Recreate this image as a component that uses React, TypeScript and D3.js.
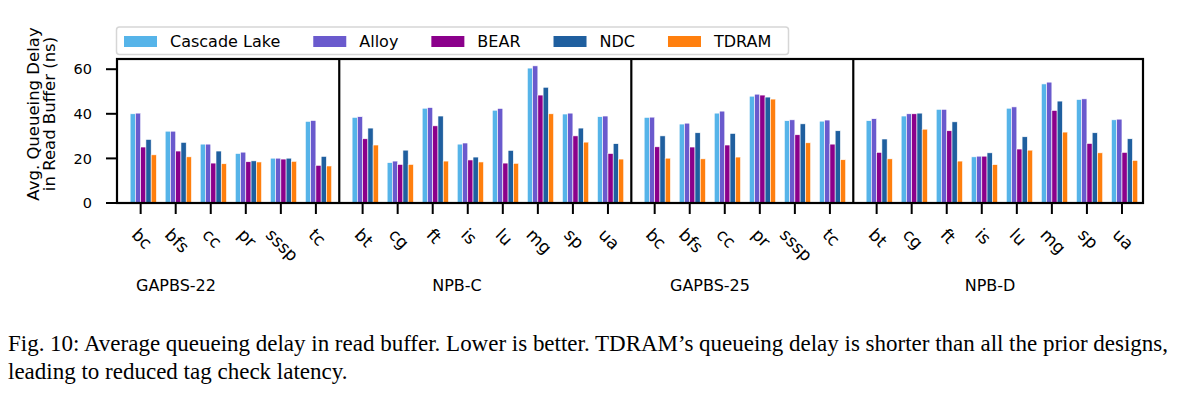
import * as d3 from "d3";
import React, { useRef, useEffect } from "react";

const seriesNames = ["Cascade Lake", "Alloy", "BEAR", "NDC", "TDRAM"];
const seriesColors = ["#56B4E9", "#6A5ACD", "#8B008B", "#1F5F9F", "#FF7F0E"];

const groupNames = ["GAPBS-22", "NPB-C", "GAPBS-25", "NPB-D"];
const gapbsApps = ["bc", "bfs", "cc", "pr", "sssp", "tc"];
const npbApps = ["bt", "cg", "ft", "is", "lu", "mg", "sp", "ua"];
const groupApps = [gapbsApps, npbApps, gapbsApps, npbApps];

// values per series, in order GAPBS-22 | NPB-C | GAPBS-25 | NPB-D
const cascadeLake = [
  40.0, 32.2, 26.4, 22.2, 20.1, 36.6,
  38.4, 18.1, 42.5, 26.4, 41.6, 60.5, 39.9, 38.7,
  38.4, 35.4, 40.3, 47.9, 36.9, 36.7,
  36.9, 39.0, 42.0, 20.7, 42.5, 53.4, 46.4, 37.3,
];
const alloy = [
  40.3, 32.2, 26.4, 22.8, 20.1, 37.0,
  38.7, 18.8, 42.8, 26.9, 42.4, 61.5, 40.3, 39.0,
  38.5, 35.8, 41.2, 48.8, 37.3, 37.2,
  37.8, 40.0, 42.0, 21.0, 43.1, 54.2, 46.7, 37.6,
];
const bear = [
  25.1, 23.3, 17.9, 18.5, 19.7, 16.9,
  28.8, 17.3, 34.6, 19.3, 17.9, 48.4, 30.1, 22.2,
  25.2, 25.1, 26.0, 48.4, 30.6, 26.4,
  22.7, 40.0, 32.4, 21.0, 24.2, 41.5, 26.7, 22.7,
];
const ndc = [
  28.5, 27.2, 23.3, 18.9, 20.1, 20.9,
  33.6, 23.7, 39.0, 20.6, 23.6, 51.9, 33.6, 26.6,
  30.1, 31.5, 31.2, 47.5, 35.5, 32.4,
  28.7, 40.3, 36.4, 22.5, 29.7, 45.7, 31.5, 28.8,
];
const tdram = [
  21.6, 20.7, 17.6, 18.4, 18.7, 16.6,
  26.0, 17.3, 18.8, 18.4, 17.8, 40.0, 27.3, 19.7,
  20.1, 19.8, 20.6, 46.6, 27.0, 19.4,
  19.8, 33.1, 18.8, 17.2, 23.7, 31.8, 22.5, 19.1,
];
const seriesValues = [cascadeLake, alloy, bear, ndc, tdram];

const yTicks = [0, 20, 40, 60];
const yLabelLines = ["Avg. Queueing Delay", "in Read Buffer (ns)"];
const groupLabelX = [176, 457, 710, 990];
const captionLines = [
  "Fig. 10: Average queueing delay in read buffer. Lower is better. TDRAM\u2019s queueing delay is shorter than all the prior designs,",
  "leading to reduced tag check latency.",
];

const FONT = "'DejaVu Sans', sans-serif";

const App: React.FC = () => {
  const svgRef = useRef<SVGSVGElement>(null);

  useEffect(() => {
    if (!svgRef.current) return;
    const svg = d3.select(svgRef.current);
    svg.selectAll("*").remove();

    const left = 117, right = 1143, top = 59, bottom = 203;
    const barW = 0.15;
    const groupGap = 1 / 3;

    // flat list of categories with their x position (extra gap between groups)
    const cats: { app: string; pos: number; group: number }[] = [];
    let idx = 0;
    groupApps.forEach((apps, g) => {
      apps.forEach((app) => {
        cats.push({ app, pos: idx + g * groupGap, group: g });
        idx++;
      });
    });

    const x = d3.scaleLinear().domain([-0.675, 28.6]).range([left, right]);
    const maxVal = d3.max(seriesValues.flat()) as number;
    const y = d3.scaleLinear().domain([0, maxVal * 1.05]).range([bottom, top]);

    // bars
    seriesValues.forEach((vals, s) => {
      svg
        .append("g")
        .selectAll("rect")
        .data(vals)
        .join("rect")
        .attr("x", (_, i) => x(cats[i].pos + (s - 2) * barW))
        .attr("y", (d) => y(d))
        .attr("width", x(barW) - x(0))
        .attr("height", (d) => y(0) - y(d))
        .attr("fill", seriesColors[s])
        .attr("stroke", "white")
        .attr("stroke-width", 0.6);
    });

    // group dividers
    const dividers = [1, 2, 3].map((g) => {
      const lastPrev = cats.filter((c) => c.group === g - 1).slice(-1)[0].pos;
      const firstNext = cats.find((c) => c.group === g)!.pos;
      return (lastPrev + firstNext) / 2;
    });
    svg
      .append("g")
      .selectAll("line")
      .data(dividers)
      .join("line")
      .attr("x1", (d) => x(d))
      .attr("x2", (d) => x(d))
      .attr("y1", top)
      .attr("y2", bottom)
      .attr("stroke", "black")
      .attr("stroke-width", 2.2);

    // frame
    svg
      .append("rect")
      .attr("x", left)
      .attr("y", top)
      .attr("width", right - left)
      .attr("height", bottom - top)
      .attr("fill", "none")
      .attr("stroke", "black")
      .attr("stroke-width", 2.2);

    // y axis
    const yAxis = svg.append("g").attr("font-family", FONT);
    yAxis
      .selectAll("line")
      .data(yTicks)
      .join("line")
      .attr("x1", left - 11)
      .attr("x2", left)
      .attr("y1", (d) => y(d))
      .attr("y2", (d) => y(d))
      .attr("stroke", "black")
      .attr("stroke-width", 2);
    yAxis
      .selectAll("text")
      .data(yTicks)
      .join("text")
      .attr("x", 92)
      .attr("y", (d) => y(d))
      .attr("dy", "0.36em")
      .attr("text-anchor", "end")
      .attr("font-size", 14.5)
      .text((d) => d);

    // y label
    const ylab = svg
      .append("text")
      .attr("font-family", FONT)
      .attr("font-size", 16.5)
      .attr("text-anchor", "middle")
      .attr("transform", `translate(39,114) rotate(-90)`);
    yLabelLines.forEach((t, i) => {
      ylab.append("tspan").attr("x", 0).attr("dy", i === 0 ? 0 : 16).text(t);
    });

    // x ticks
    svg
      .append("g")
      .selectAll("line")
      .data(cats)
      .join("line")
      .attr("x1", (d) => x(d.pos))
      .attr("x2", (d) => x(d.pos))
      .attr("y1", bottom)
      .attr("y2", bottom + 11)
      .attr("stroke", "black")
      .attr("stroke-width", 2);

    // rotated x tick labels, bbox centered under tick
    const labelTop = 226;
    const fs = 17;
    const xl = svg.append("g").attr("font-family", FONT).attr("font-size", fs);
    cats.forEach((c) => {
      const t = xl
        .append("text")
        .attr("text-anchor", "middle")
        .attr("dy", "0.32em")
        .text(c.app);
      const w = (t.node() as SVGTextElement).getComputedTextLength();
      const h = fs * 1.0;
      const half = ((w + h) * Math.SQRT1_2) / 2;
      t.attr("transform", `translate(${x(c.pos) + 1},${labelTop + half}) rotate(45)`);
    });

    // group labels
    svg
      .append("g")
      .attr("font-family", FONT)
      .attr("font-size", 16)
      .selectAll("text")
      .data(groupNames)
      .join("text")
      .attr("x", (_, i) => groupLabelX[i])
      .attr("y", 291)
      .attr("text-anchor", "middle")
      .text((d) => d);

    // legend
    const lg = svg.append("g").attr("font-family", FONT).attr("font-size", 16);
    lg.append("rect")
      .attr("x", 116.5)
      .attr("y", 27)
      .attr("width", 672)
      .attr("height", 27.5)
      .attr("rx", 3)
      .attr("fill", "white")
      .attr("fill-opacity", 0.8)
      .attr("stroke", "#d6d6d6")
      .attr("stroke-width", 1.5);
    let lx = 124;
    seriesNames.forEach((name, s) => {
      lg.append("rect")
        .attr("x", lx)
        .attr("y", 36)
        .attr("width", 33)
        .attr("height", 11)
        .attr("fill", seriesColors[s]);
      const t = lg
        .append("text")
        .attr("x", lx + 46)
        .attr("y", 47)
        .text(name);
      const w = (t.node() as SVGTextElement).getComputedTextLength();
      lx += 46 + w + 33;
    });

    // caption
    const cap = svg
      .append("g")
      .attr("font-family", "'Liberation Serif', 'Times New Roman', serif")
      .attr("font-size", 23);
    cap.append("text")
      .attr("x", 8)
      .attr("y", 351)
      .attr("textLength", 1160)
      .attr("lengthAdjust", "spacing")
      .text(captionLines[0]);
    cap.append("text").attr("x", 8).attr("y", 379).text(captionLines[1]);
  }, []);

  return (
    <svg
      ref={svgRef}
      width={1178}
      height={398}
      style={{ position: "absolute", left: 0, top: 0, background: "white" }}
    ></svg>
  );
};

export default App;
